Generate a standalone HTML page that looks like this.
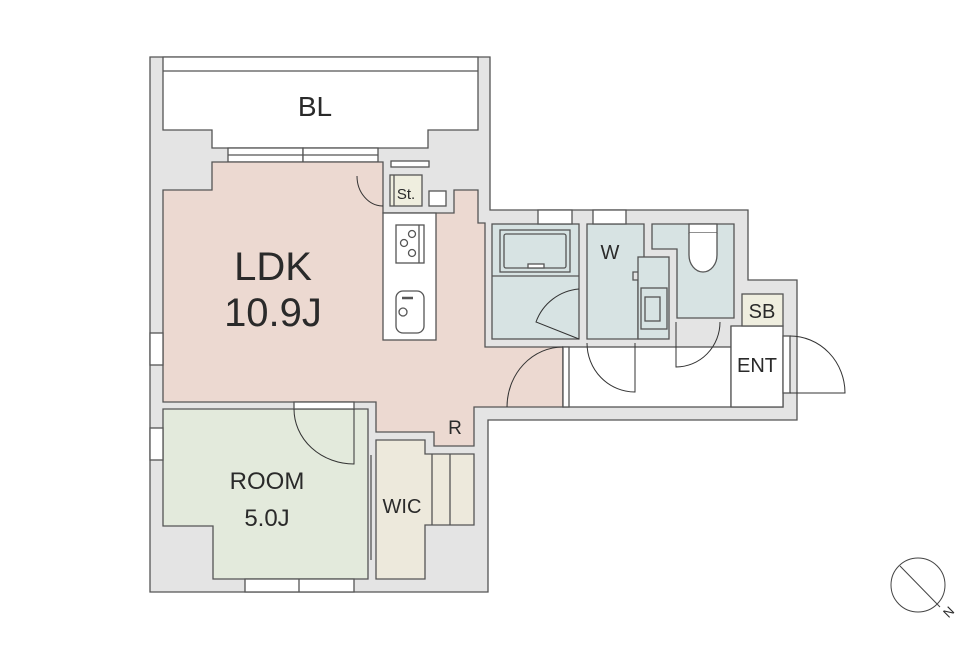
<!DOCTYPE html>
<html><head><meta charset="utf-8"><style>
html,body{margin:0;padding:0;background:#fff;}
svg{display:block;}
text{font-family:"Liberation Sans",sans-serif;fill:#2a2a2a;}
</style></head><body>
<svg width="980" height="655" viewBox="0 0 980 655" xmlns="http://www.w3.org/2000/svg">
<g stroke="#555" stroke-width="1.3">
<!-- outer walls -->
<polygon points="150,57 490,57 490,210 748,210 748,280 797,280 797,420 488,420 488,592 150,592" fill="#e4e4e4"/>
<!-- BL -->
<polygon points="163,57 478,57 478,130 428,130 428,148 212,148 212,130 163,130" fill="#fff"/>
<line x1="163" y1="71" x2="478" y2="71"/>
<!-- BL windows -->
<rect x="228" y="148" width="75" height="14" fill="#fff"/>
<rect x="303" y="148" width="75" height="14" fill="#fff"/>
<line x1="228" y1="155" x2="378" y2="155"/>
<!-- LDK -->
<polygon points="163,190 212,190 212,162 383,162 383,213 454,213 454,190 478,190 478,223 485,223 485,347 563,347 563,407 474,407 474,446 434,446 434,432 376,432 376,402 163,402" fill="#ecd9d1"/>
<!-- bar/st area -->
<rect x="391" y="161" width="38" height="6" fill="#fff"/>
<rect x="390" y="175" width="32" height="31" fill="#efeedf"/>
<line x1="394" y1="175" x2="394" y2="206"/>
<rect x="429" y="191" width="17" height="15" fill="#fff"/>
<!-- counter -->
<rect x="383" y="213" width="53" height="127" fill="#fff"/>
<rect x="396" y="225" width="28" height="38" fill="#fff"/>
<line x1="419" y1="225" x2="419" y2="263"/>
<circle cx="412" cy="234" r="3.5" fill="none"/>
<circle cx="404" cy="243" r="3.5" fill="none"/>
<circle cx="412" cy="253" r="3.5" fill="none"/>
<rect x="396" y="291" width="28" height="42" rx="7" fill="#fff"/>
<circle cx="403" cy="312" r="4" fill="none"/>
<line x1="402" y1="298" x2="413" y2="298" stroke-width="2.5"/>
</g>
<g stroke="#333" stroke-width="1" fill="none">
<path d="M357,176 A26,30 0 0 0 383,206"/>
</g>
<g stroke="#555" stroke-width="1.3">
<!-- wet area -->
<rect x="492" y="224" width="87" height="115" fill="#d7e3e3"/>
<rect x="500" y="230" width="70" height="42" fill="none"/>
<rect x="504" y="234" width="62" height="34" rx="2" fill="none"/>
<rect x="528" y="264" width="16" height="4" fill="#fff"/>
<line x1="492" y1="276" x2="579" y2="276"/>
<polygon points="587,224 644,224 644,272 633,272 633,280 638,280 638,339 587,339" fill="#d7e3e3"/>
<rect x="638" y="257" width="31" height="82" fill="#d7e3e3"/>
<rect x="641" y="288" width="26" height="41" fill="none"/>
<rect x="645" y="297" width="15" height="24" fill="none"/>
<polygon points="652,224 734,224 734,318 677,318 677,249 652,249" fill="#d7e3e3"/>
<rect x="689" y="224" width="28" height="9" fill="#fff"/>
<path d="M689,233 L689,255 A14,17 0 0 0 717,255 L717,233" fill="#fff"/>
<!-- hall -->
<rect x="563" y="347" width="220" height="60" fill="#fff"/>
<line x1="731" y1="326" x2="731" y2="407"/>
<rect x="731" y="326" width="52" height="81" fill="#fff"/>
<rect x="742" y="294" width="41" height="32" fill="#efeedf"/>
<rect x="563" y="347" width="6" height="60" fill="#fff"/>
<rect x="783" y="336" width="7" height="57" fill="#fff"/>
<!-- top windows wet -->
<rect x="538" y="210" width="34" height="14" fill="#fff"/>
<rect x="593" y="210" width="33" height="14" fill="#fff"/>
<!-- room -->
<polygon points="163,409 368,409 368,579 213,579 213,526 163,526" fill="#e3eadc"/>
<rect x="294" y="402" width="60" height="7" fill="#fff"/>
<rect x="245" y="579" width="109" height="13" fill="#fff"/>
<line x1="299" y1="579" x2="299" y2="592"/>
<!-- WIC -->
<polygon points="376,440 425,440 425,454 474,454 474,525 425,525 425,579 376,579" fill="#ede9dc"/>
<line x1="432" y1="454" x2="432" y2="525"/>
<line x1="450" y1="454" x2="450" y2="525"/>
<line x1="371" y1="455" x2="371" y2="560"/>
<!-- left windows -->
<rect x="150" y="333" width="13" height="32" fill="#fff"/>
<rect x="150" y="428" width="13" height="32" fill="#fff"/>
</g>
<g stroke="#333" stroke-width="1" fill="none">
<path d="M294,409 A60,55 0 0 0 354,464 L354,409"/>
<path d="M507,407 A56,60 0 0 1 563,347"/>
<path d="M579,289 A50,50 0 0 0 536,322 L579,339"/>
<path d="M587,343 A48,49 0 0 0 635,392 L635,343"/>
<path d="M720,322 A44,45 0 0 1 676,367 L676,322"/>
<path d="M790,336 A55,57 0 0 1 845,393 L790,393"/>
<circle cx="918" cy="585" r="27" stroke="#444"/>
<line x1="900" y1="566" x2="940" y2="607" stroke="#444"/>
</g>
<text x="315" y="116" font-size="28" text-anchor="middle">BL</text>
<text x="273" y="280" font-size="40" text-anchor="middle">LDK</text>
<text x="273" y="326" font-size="40" text-anchor="middle">10.9J</text>
<text x="406" y="199" font-size="15" text-anchor="middle">St.</text>
<text x="455" y="434" font-size="19" text-anchor="middle">R</text>
<text x="267" y="489" font-size="24" text-anchor="middle">ROOM</text>
<text x="267" y="526" font-size="24" text-anchor="middle">5.0J</text>
<text x="402" y="513" font-size="20" text-anchor="middle">WIC</text>
<text x="610" y="259" font-size="20" text-anchor="middle">W</text>
<text x="762" y="318" font-size="20" text-anchor="middle">SB</text>
<text x="757" y="372" font-size="20" text-anchor="middle">ENT</text>
<text x="945" y="620" font-size="13" transform="rotate(-45 945 615)">N</text>
</svg>
</body></html>
